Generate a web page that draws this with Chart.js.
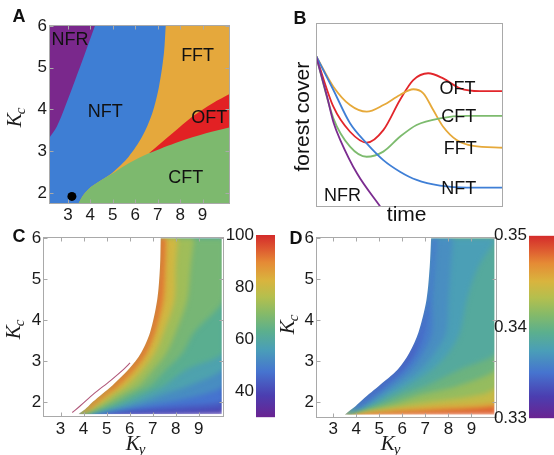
<!DOCTYPE html>
<html>
<head>
<meta charset="utf-8">
<title>Forest cover regimes</title>
<script src="https://cdn.jsdelivr.net/npm/chart.js@4.4.1/dist/chart.umd.min.js"></script>
<style>
  html, body { margin: 0; padding: 0; background: #fff; width: 554px; height: 455px; overflow: hidden; }
  canvas { position: absolute; }
</style>
</head>
<body>
<canvas id="panelA" width="240" height="228" style="left:0;top:0"></canvas>
<canvas id="panelB" width="240" height="230" style="left:277px;top:0"></canvas>
<canvas id="panelC" width="240" height="245" style="left:0;top:210px"></canvas>
<canvas id="barC" width="80" height="245" style="left:206px;top:210px"></canvas>
<canvas id="panelD" width="240" height="245" style="left:277px;top:210px"></canvas>
<canvas id="barD" width="100" height="245" style="left:470px;top:210px"></canvas>
<script>
// ---------- shared axes ----------
const kyTicks = [3, 4, 5, 6, 7, 8, 9];
const kcTicks = [2, 3, 4, 5, 6];

// ---------- panel A: regime map (boundaries read as Ky for each Kc) ----------
const kyRangeA = [2.16, 10.2];
const kcRangeA = [1.75, 6.02];
const nfrKc = [3.31, 3.59, 4.07, 4.71, 5.35, 6.02];
const nfrKy = [2.16, 2.51, 2.88, 3.33, 3.77, 4.22];
const fftKc = [1.75, 1.96, 2.16, 2.32, 2.48, 2.87, 3.35, 3.91, 4.55, 5.35, 6.02];
const fftKy = [3.47, 3.7, 4.07, 4.52, 4.97, 5.71, 6.31, 6.76, 7.06, 7.28, 7.36];
const oftKc = [2.95, 3.43, 3.83, 4.15, 4.39];
const oftKy = [6.61, 7.66, 8.55, 9.45, 10.27];
const cftKc = [1.75, 1.96, 2.16, 2.32, 2.51, 2.71, 2.95, 3.23, 3.43, 3.58];
const cftKy = [3.47, 3.7, 4.07, 4.52, 5.12, 5.71, 6.61, 7.95, 9.15, 10.27];
const dotKy = [3.18];
const dotKc = [1.92];
const regionNames = ['NFR', 'NFT', 'FFT', 'OFT', 'CFT'];
const regionKy = [3.1, 4.67, 8.78, 9.3, 8.25];
const regionKc = [5.67, 3.95, 5.27, 3.79, 2.36];

// ---------- panel B: forest cover over time ----------
const tNFR = [0, 0.59, 0.95, 1.3, 2.19, 3.45];
const fNFR = [0.822, 0.6, 0.455, 0.364, 0.183, 0];
const tNFT = [0, 0.93, 1.82, 2.71, 3.6, 4.49, 5.38, 6.63, 8.06, 10];
const fNFT = [0.822, 0.636, 0.455, 0.346, 0.255, 0.192, 0.147, 0.116, 0.105, 0.105];
const tOFT = [0, 0.93, 1.82, 2.71, 3.6, 4.49, 5.2, 6.0, 6.8, 7.7, 8.77, 10];
const fOFT = [0.822, 0.545, 0.409, 0.35, 0.418, 0.582, 0.69, 0.727, 0.699, 0.645, 0.63, 0.63];
const tFFT = [0, 0.93, 1.82, 2.71, 3.6, 4.49, 5.2, 5.74, 6.27, 6.8, 7.52, 8.41, 10];
const fFFT = [0.822, 0.654, 0.554, 0.518, 0.554, 0.609, 0.64, 0.618, 0.527, 0.436, 0.364, 0.332, 0.322];
const tCFT = [0, 0.93, 1.82, 2.71, 3.6, 4.49, 5.38, 6.63, 8.06, 10];
const fCFT = [0.822, 0.482, 0.328, 0.273, 0.301, 0.382, 0.446, 0.482, 0.495, 0.495];
const curveNames = ['OFT', 'CFT', 'FFT', 'NFT', 'NFR'];
const curveNameT = [7.57, 7.63, 7.71, 7.63, 1.42];
const curveNameF = [0.64, 0.489, 0.316, 0.099, 0.058];

// ---------- panels C and D: heat maps as contour bands ----------
const kyRangeHeat = [2.25, 10.1];
const kcRangeHeat = [1.63, 6.04];
const heatKyEdge = 10.0;
const E = 10.1; // contour runs off the right edge: whole row is past the level

const cRows = [1.7, 1.8, 1.9, 2.0, 2.2, 2.4, 2.8, 3.2, 3.7, 4.5, 5.3, 6.0];
const cEdgeKy = [3.78, 4.02, 4.22, 4.4, 4.82, 5.25, 5.97, 6.5, 6.89, 7.2, 7.32, 7.35];
const cKy40 = [5.8, E, E, E, E, E, E, E, E, E, E, E];
const cKy45 = [4.8, 6.0, 8.5, E, E, E, E, E, E, E, E, E];
const cKy50 = [4.4, 5.4, 6.5, 7.6, 9.3, E, E, E, E, E, E, E];
const cKy55 = [4.2, 5.0, 5.85, 6.5, 7.5, 8.6, E, E, E, E, E, E];
const cKy60 = [4.1, 4.75, 5.4, 5.9, 6.7, 7.5, 8.5, E, E, E, E, E];
const cKy65 = [4.0, 4.55, 5.05, 5.5, 6.15, 6.9, 7.6, 8.3, 8.8, E, E, E];
const cKy70 = [3.95, 4.4, 4.8, 5.15, 5.75, 6.4, 7.05, 7.6, 8.0, 8.5, 8.65, 8.8];
const cKy77 = [3.88, 4.25, 4.55, 4.85, 5.35, 5.9, 6.6, 7.1, 7.48, 7.95, 8.0, 8.1];
const cKy85 = [3.83, 4.12, 4.38, 4.6, 5.05, 5.55, 6.25, 6.75, 7.12, 7.5, 7.56, 7.6];
const cKy93 = [3.8, 4.06, 4.28, 4.47, 4.9, 5.35, 6.07, 6.6, 6.98, 7.3, 7.41, 7.45];
const cBaseValue = 37;
const cBandValues = [42.5, 47.5, 52.5, 57.5, 62.5, 67.5, 73.5, 81, 89, 96.5];
const cArtKc = [1.74, 1.91, 2.2, 2.52, 2.8, 2.95];
const cArtKy = [3.51, 3.87, 4.45, 5.17, 5.75, 6.02];
const cbRangeC = [30, 100];
const cbTicksC = [40, 60, 80, 100];

const dRows = [1.7, 1.8, 1.9, 2.0, 2.2, 2.4, 2.8, 3.2, 3.7, 4.5, 5.3, 6.0];
const dEdgeKy = [3.5, 3.72, 3.95, 4.15, 4.55, 4.98, 5.8, 6.3, 6.7, 7.05, 7.19, 7.25];
const dKy347 = [3.9, 7.5, E, E, E, E, E, E, E, E, E, E];
const dKy345 = [3.65, 4.7, 7.5, E, E, E, E, E, E, E, E, E];
const dKy343 = [3.6, 4.3, 5.7, 7.0, 9.5, E, E, E, E, E, E, E];
const dKy341 = [3.57, 4.05, 5.0, 5.8, 6.9, 8.4, E, E, E, E, E, E];
const dKy3395 = [3.55, 3.95, 4.6, 5.2, 6.0, 7.0, 8.5, E, E, E, E, E];
const dKy338 = [3.52, 3.85, 4.4, 4.85, 5.5, 6.2, 7.3, 8.0, 8.5, 8.8, 9.3, E];
const dKy337 = [3.51, 3.8, 4.25, 4.65, 5.2, 5.8, 6.8, 7.4, 7.9, 8.0, 8.1, 8.2];
const dKy336 = [3.5, 3.76, 4.15, 4.45, 4.95, 5.45, 6.35, 6.9, 7.3, 7.3, 7.4, 7.5];
const dKy335 = [3.5, 3.74, 4.05, 4.3, 4.75, 5.2, 6.05, 6.6, 6.95, 7.1, 7.19, 7.25];
const dKy334 = [3.5, 3.72, 3.98, 4.2, 4.62, 5.07, 5.9, 6.4, 6.7, 7.05, 7.19, 7.25];
const dBaseValue = 0.3483;
const dBandValues = [0.346, 0.344, 0.342, 0.3402, 0.3387, 0.3375, 0.3365, 0.3355, 0.3345, 0.3332];
const cbRangeD = [0.33, 0.35];
const cbTicksD = [0.33, 0.34, 0.35];

// ---------- styling ----------
Chart.defaults.font.family = '"Liberation Sans", Arial, sans-serif';
Chart.defaults.font.size = 17;
Chart.defaults.color = '#1a1a1a';
Chart.defaults.animation = false;
Chart.defaults.plugins.legend.display = false;
Chart.defaults.plugins.tooltip.enabled = false;

const RAINBOW = [
  [0.00, [106, 35, 145]],
  [0.12, [75, 62, 176]],
  [0.25, [70, 116, 207]],
  [0.37, [74, 158, 184]],
  [0.47, [91, 175, 142]],
  [0.57, [134, 186, 104]],
  [0.66, [180, 191, 78]],
  [0.75, [217, 180, 62]],
  [0.85, [229, 138, 53]],
  [0.93, [221, 85, 48]],
  [1.00, [212, 43, 43]]
];

function rainbow(t) {
  t = Math.min(1, Math.max(0, t));
  for (let i = 1; i < RAINBOW.length; i++) {
    const [t1, c1] = RAINBOW[i];
    if (t <= t1) {
      const [t0, c0] = RAINBOW[i - 1];
      const f = (t - t0) / (t1 - t0);
      return 'rgb(' + c0.map((v, k) => Math.round(v + (c1[k] - v) * f)).join(',') + ')';
    }
  }
  return 'rgb(212,43,43)';
}
const colorC = v => rainbow((v - cbRangeC[0]) / (cbRangeC[1] - cbRangeC[0]));
const colorD = v => rainbow((v - cbRangeD[0]) / (cbRangeD[1] - cbRangeD[0]));

function rainbowFill(c) {
  const a = c.chart.chartArea;
  if (!a) return 'transparent';
  const g = c.chart.ctx.createLinearGradient(0, a.bottom, 0, a.top);
  RAINBOW.forEach(([t, rgb]) => g.addColorStop(t, 'rgb(' + rgb.join(',') + ')'));
  return g;
}

// points are fed top-down so the horizontal fills sweep in increasing pixel y
function pts(kys, kcs) {
  return kcs.map((kc, i) => ({x: kys[i], y: kc})).reverse();
}

function patch(kys, kcs, fill, color, order) {
  return {data: pts(kys, kcs), fill, backgroundColor: color, borderWidth: 0,
          pointRadius: 0, tension: 0.3, order};
}

function axis(range, ticks, size, fmt) {
  return {
    type: 'linear', min: range[0], max: range[1],
    grid: {display: false, drawTicks: false}, border: {display: false},
    ticks: {padding: 2, autoSkip: false, maxRotation: 0, callback: fmt || (v => String(v))},
    afterBuildTicks: s => { s.ticks = ticks.map(v => ({value: v})); },
    afterFit: s => { if (s.isHorizontal()) s.height = size; else s.width = size; }
  };
}

function drawSub(ctx, s) {
  ctx.save();
  ctx.translate(s.x, s.y);
  if (s.rot) ctx.rotate(-Math.PI / 2);
  ctx.fillStyle = '#1a1a1a';
  ctx.textBaseline = 'alphabetic';
  ctx.textAlign = 'left';
  const big = 'italic 21px "Liberation Serif"', small = 'italic 15px "Liberation Serif"';
  ctx.font = big;
  const w1 = ctx.measureText(s.main).width;
  ctx.font = small;
  const w2 = ctx.measureText(s.sub).width;
  const x0 = -(w1 + w2) / 2;
  ctx.font = big;
  ctx.fillText(s.main, x0, 0);
  ctx.font = small;
  ctx.fillText(s.sub, x0 + w1 - 1, 4);
  ctx.restore();
}

// heat maps: soften the contour bands, then cut everything outside the
// solution region back to crisp white in one even-odd fill
function finishSmooth(chart, cfg) {
  const {ctx, chartArea: a, scales} = chart;
  ctx.filter = 'none';
  const line = chart.getDatasetMeta(0).dataset;
  const p = line.points;
  const top = p[0], bottom = p[p.length - 1];
  const xR = scales.x.getPixelForValue(heatKyEdge);
  ctx.save();
  ctx.fillStyle = '#fff';
  ctx.beginPath();
  ctx.rect(a.left - 2, a.top - 2, a.right - a.left + 4, a.bottom - a.top + 4);
  line.path(ctx);
  ctx.lineTo(xR, bottom.y);
  ctx.lineTo(xR, top.y);
  ctx.closePath();
  ctx.fill('evenodd');
  ctx.restore();
}

// frame, region names, panel letter and axis titles
function decor(cfg) {
  let smoothDone = false;
  return {
    id: 'decor',
    beforeDatasetsDraw(chart) {
      if (cfg.blur) { smoothDone = false; chart.ctx.filter = 'blur(' + cfg.blur + 'px)'; }
    },
    beforeDatasetDraw(chart, args) {
      if (cfg.blur && !smoothDone && args.index === cfg.crispFrom) { finishSmooth(chart, cfg); smoothDone = true; }
    },
    afterDatasetsDraw(chart) {
      if (cfg.blur && !smoothDone) { finishSmooth(chart, cfg); smoothDone = true; }
      const {ctx, chartArea: a, scales} = chart;
      ctx.save();
      if (cfg.frame) {
        const l = Math.round(a.left) + 0.5, t = Math.round(a.top) + 0.5;
        const r = Math.round(a.right) - 0.5, b = Math.round(a.bottom) - 0.5;
        ctx.strokeStyle = '#a9a9a9';
        ctx.lineWidth = 1;
        ctx.strokeRect(l, t, r - l, b - t);
        if (cfg.ticks) {
          ctx.beginPath();
          scales.x.ticks.forEach(tk => {
            const px = Math.round(scales.x.getPixelForValue(tk.value)) + 0.5;
            ctx.moveTo(px, b); ctx.lineTo(px, b - 4);
            ctx.moveTo(px, t); ctx.lineTo(px, t + 4);
          });
          scales.y.ticks.forEach(tk => {
            const py = Math.round(scales.y.getPixelForValue(tk.value)) + 0.5;
            ctx.moveTo(l, py); ctx.lineTo(l + 4, py);
            ctx.moveTo(r, py); ctx.lineTo(r - 4, py);
          });
          ctx.stroke();
        }
      }
      if (cfg.names) {
        ctx.fillStyle = '#111';
        ctx.font = '18px "Liberation Sans"';
        ctx.textAlign = 'center';
        ctx.textBaseline = 'middle';
        cfg.names.forEach((n, i) => {
          ctx.fillText(n, scales.x.getPixelForValue(cfg.nameX[i]), scales.y.getPixelForValue(cfg.nameY[i]));
        });
      }
      ctx.restore();
    },
    afterDraw(chart) {
      const ctx = chart.ctx;
      ctx.save();
      ctx.fillStyle = '#111';
      if (cfg.letter) {
        ctx.font = 'bold 18px "Liberation Sans"';
        ctx.textAlign = 'center';
        ctx.textBaseline = 'middle';
        ctx.fillText(cfg.letter[0], cfg.letter[1], cfg.letter[2]);
      }
      (cfg.titles || []).forEach(tt => {
        ctx.save();
        ctx.translate(tt.x, tt.y);
        if (tt.rot) ctx.rotate(-Math.PI / 2);
        ctx.font = '21px "Liberation Sans"';
        ctx.textAlign = 'center';
        ctx.textBaseline = 'middle';
        ctx.fillText(tt.text, 0, 0);
        ctx.restore();
      });
      (cfg.subs || []).forEach(s => drawSub(ctx, s));
      ctx.restore();
    }
  };
}

// ---------- panel A ----------
new Chart(document.getElementById('panelA'), {
  type: 'line',
  data: {
    datasets: [
      patch([kyRangeA[0], kyRangeA[0]], kcRangeA, {value: kyRangeA[1]}, '#3e7ed4', 5),
      patch(nfrKy, nfrKc, {value: kyRangeA[0]}, '#7a288c', 4),
      patch(fftKy, fftKc, {value: kyRangeA[1]}, '#e5a83c', 3),
      patch(oftKy, oftKc, {value: kyRangeA[1]}, '#e22124', 2),
      patch(cftKy, cftKc, {value: kyRangeA[1]}, '#7db96e', 1),
      {data: pts(dotKy, dotKc), showLine: false, pointRadius: 4.5, pointBackgroundColor: '#000',
       pointBorderWidth: 0, order: 0}
    ]
  },
  options: {
    indexAxis: 'y', responsive: false,
    layout: {padding: {top: 25, right: 10.5, left: 0, bottom: 0}},
    scales: {x: axis(kyRangeA, kyTicks, 24.5), y: axis(kcRangeA, kcTicks, 49)}
  },
  plugins: [decor({
    frame: true, ticks: true,
    names: regionNames, nameX: regionKy, nameY: regionKc,
    letter: ['A', 19, 17],
    subs: [{main: 'K', sub: 'c', x: 21, y: 117, rot: true}]
  })]
});

// ---------- panel B ----------
function series(ts, fs, color) {
  return {data: ts.map((t, i) => ({x: t, y: fs[i]})), borderColor: color, borderWidth: 1.8,
          pointRadius: 0, fill: false, cubicInterpolationMode: 'monotone'};
}
new Chart(document.getElementById('panelB'), {
  type: 'line',
  data: {
    datasets: [
      series(tNFR, fNFR, '#7b2c90'),
      series(tNFT, fNFT, '#3f7fd6'),
      series(tCFT, fCFT, '#7dbb6e'),
      series(tFFT, fFFT, '#e6a93a'),
      series(tOFT, fOFT, '#e2262b')
    ]
  },
  options: {
    responsive: false,
    layout: {padding: {top: 23, right: 14, left: 39, bottom: 23}},
    scales: {
      x: {type: 'linear', min: 0, max: 10, display: false},
      y: {type: 'linear', min: 0, max: 1, display: false}
    }
  },
  plugins: [decor({
    frame: true,
    names: curveNames, nameX: curveNameT, nameY: curveNameF,
    letter: ['B', 23, 19],
    titles: [{text: 'forest cover', x: 26.7, y: 116.7, rot: true}, {text: 'time', x: 129.7, y: 215}]
  })]
});

// ---------- panel C ----------
const cBands = [cKy40, cKy45, cKy50, cKy55, cKy60, cKy65, cKy70, cKy77, cKy85, cKy93];
new Chart(document.getElementById('panelC'), {
  type: 'line',
  data: {
    datasets: [
      patch(cEdgeKy, cRows, {value: E}, colorC(cBaseValue), 100),
      ...cBands.map((ky, i) => patch(ky, cRows, 0, colorC(cBandValues[i]), 99 - i)),
      patch(cEdgeKy, cRows, {value: kyRangeHeat[0]}, colorC(cBandValues[cBandValues.length - 1]), 101),
      {data: pts(cArtKy, cArtKc), borderColor: '#b0587a', borderWidth: 1.1, pointRadius: 0,
       fill: false, tension: 0.3, order: 0}
    ]
  },
  options: {
    indexAxis: 'y', responsive: false,
    layout: {padding: {top: 26.5, right: 16, left: 0, bottom: 0}},
    scales: {x: axis(kyRangeHeat, kyTicks, 38), y: axis(kcRangeHeat, kcTicks, 43.3)}
  },
  plugins: [decor({
    frame: true, ticks: true, blur: 2.5, crispFrom: cBands.length + 2,
    letter: ['C', 19, 27.5],
    subs: [{main: 'K', sub: 'c', x: 20, y: 119, rot: true}, {main: 'K', sub: 'y', x: 136, y: 240}]
  })]
});

new Chart(document.getElementById('barC'), {
  type: 'bar',
  data: {labels: [''], datasets: [{data: [cbRangeC], backgroundColor: rainbowFill, borderWidth: 0,
                                   barPercentage: 1, categoryPercentage: 1}]},
  options: {
    responsive: false,
    layout: {padding: {top: 25, right: 11, left: 0, bottom: 37.7}},
    scales: {x: {display: false}, y: axis(cbRangeC, cbTicksC, 50)}
  }
});

// ---------- panel D ----------
const dBands = [dKy347, dKy345, dKy343, dKy341, dKy3395, dKy338, dKy337, dKy336, dKy335, dKy334];
new Chart(document.getElementById('panelD'), {
  type: 'line',
  data: {
    datasets: [
      patch(dEdgeKy, dRows, {value: E}, colorD(dBaseValue), 100),
      ...dBands.map((ky, i) => patch(ky, dRows, 0, colorD(dBandValues[i]), 99 - i)),
      patch(dEdgeKy, dRows, {value: kyRangeHeat[0]}, colorD(dBandValues[dBandValues.length - 1]), 101)
    ]
  },
  options: {
    indexAxis: 'y', responsive: false,
    layout: {padding: {top: 26.5, right: 20.3, left: 0, bottom: 0}},
    scales: {x: axis(kyRangeHeat, kyTicks, 37.5), y: axis(kcRangeHeat, kcTicks, 39)}
  },
  plugins: [decor({
    frame: true, ticks: true, blur: 2.5, crispFrom: -1,
    letter: ['D', 19, 29],
    subs: [{main: 'K', sub: 'c', x: 17, y: 114, rot: true}, {main: 'K', sub: 'y', x: 114, y: 240}]
  })]
});

new Chart(document.getElementById('barD'), {
  type: 'bar',
  data: {labels: [''], datasets: [{data: [cbRangeD], backgroundColor: rainbowFill, borderWidth: 0,
                                   barPercentage: 1, categoryPercentage: 1}]},
  options: {
    responsive: false,
    layout: {padding: {top: 25.7, right: 15, left: 0, bottom: 36.7}},
    scales: {x: {display: false}, y: axis(cbRangeD, cbTicksD, 59, v => v.toFixed(2))}
  }
});
</script>
</body>
</html>
